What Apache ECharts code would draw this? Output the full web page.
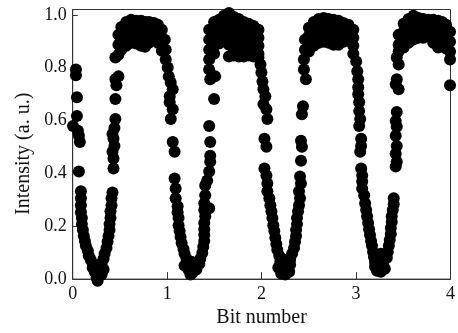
<!DOCTYPE html>
<html>
<head>
<meta charset="utf-8">
<script src="https://cdn.jsdelivr.net/npm/echarts@6/dist/echarts.min.js"></script>
<style>html,body{margin:0;padding:0;background:#fff;}#c{width:458px;height:333px;}</style>
</head>
<body>
<div id="c"></div>
<script>
// ---- data (x = bit number, y = intensity a.u.) ----
const bit0Fall = [[0.034,0.793],[0.034,0.771],[0.045,0.688],[0.045,0.617],[0.003,0.579],[0.055,0.561],[0.066,0.542],[0.076,0.519],[0.066,0.407],[0.087,0.332],[0.087,0.306],[0.087,0.279],[0.087,0.253],[0.097,0.231],[0.097,0.208],[0.108,0.186],[0.118,0.163],[0.129,0.144],[0.139,0.126],[0.160,0.107],[0.170,0.088],[0.191,0.073],[0.212,0.058]];
const bit0Bottom = [[0.212,0.043],[0.254,0.051],[0.296,0.047],[0.233,0.028],[0.275,0.024],[0.327,0.036],[0.254,0.006],[0.264,-0.006],[0.306,0.017]];
const bit0Rise = [[0.306,0.058],[0.327,0.077],[0.338,0.096],[0.358,0.118],[0.369,0.141],[0.379,0.163],[0.390,0.186],[0.390,0.208],[0.400,0.231],[0.400,0.257],[0.411,0.279],[0.411,0.306],[0.421,0.328],[0.432,0.418],[0.432,0.456],[0.421,0.482],[0.442,0.504],[0.432,0.531],[0.421,0.549],[0.442,0.572],[0.452,0.606],[0.452,0.681],[0.452,0.756],[0.484,0.767],[0.463,0.733],[0.452,0.838]];
const plateau1 = [[0.484,0.924],[0.484,0.887],[0.484,0.849],[0.515,0.954],[0.515,0.924],[0.515,0.894],[0.515,0.868],[0.567,0.973],[0.567,0.943],[0.567,0.913],[0.567,0.883],[0.620,0.981],[0.620,0.951],[0.620,0.921],[0.620,0.894],[0.672,0.977],[0.672,0.947],[0.672,0.917],[0.672,0.891],[0.724,0.977],[0.724,0.947],[0.724,0.917],[0.724,0.883],[0.766,0.973],[0.766,0.943],[0.766,0.913],[0.766,0.879],[0.808,0.973],[0.808,0.943],[0.808,0.913],[0.808,0.894],[0.860,0.969],[0.860,0.939],[0.860,0.909],[0.902,0.962],[0.902,0.936],[0.902,0.906],[0.902,0.894],[0.944,0.943],[0.944,0.913],[0.944,0.891],[0.944,0.864]];
const bit1Fall = [[0.975,0.906],[0.985,0.868],[0.985,0.831],[1.006,0.801],[1.017,0.767],[1.038,0.744],[1.059,0.718],[1.027,0.692],[1.027,0.669],[1.059,0.643],[1.038,0.606],[1.059,0.519],[1.079,0.482],[1.079,0.381],[1.090,0.343],[1.090,0.306],[1.111,0.276],[1.111,0.253],[1.121,0.231],[1.121,0.204],[1.132,0.182],[1.142,0.159],[1.153,0.137],[1.173,0.114],[1.184,0.096],[1.205,0.077],[1.225,0.058]];
const bit1Bottom = [[1.184,0.051],[1.225,0.036],[1.268,0.024],[1.309,0.036],[1.247,0.017],[1.257,0.066],[1.299,0.054],[1.341,0.058]];
const bit1Rise = [[1.351,0.077],[1.372,0.099],[1.382,0.122],[1.393,0.144],[1.393,0.167],[1.393,0.189],[1.393,0.212],[1.403,0.238],[1.393,0.261],[1.445,0.268],[1.393,0.287],[1.403,0.317],[1.403,0.354],[1.424,0.373],[1.445,0.407],[1.456,0.444],[1.456,0.467],[1.456,0.519],[1.445,0.579],[1.497,0.681],[1.456,0.756],[1.508,0.767]];
const plateau2 = [[1.445,0.943],[1.445,0.906],[1.445,0.868],[1.445,0.831],[1.445,0.793],[1.497,0.973],[1.497,0.943],[1.497,0.913],[1.497,0.883],[1.497,0.853],[1.550,0.981],[1.550,0.951],[1.550,0.921],[1.550,0.891],[1.602,0.996],[1.602,0.966],[1.602,0.936],[1.602,0.906],[1.654,1.007],[1.654,0.977],[1.654,0.947],[1.654,0.917],[1.654,0.887],[1.654,0.842],[1.706,0.992],[1.706,0.962],[1.706,0.932],[1.706,0.902],[1.706,0.872],[1.706,0.846],[1.759,0.984],[1.759,0.954],[1.759,0.924],[1.759,0.894],[1.759,0.864],[1.759,0.842],[1.811,0.973],[1.811,0.943],[1.811,0.913],[1.811,0.883],[1.811,0.853],[1.811,0.842],[1.863,0.966],[1.863,0.936],[1.863,0.906],[1.863,0.876],[1.863,0.846],[1.915,0.958],[1.915,0.928],[1.915,0.898],[1.915,0.868],[1.915,0.842],[1.967,0.943],[1.967,0.913],[1.967,0.883],[1.967,0.853],[1.967,0.838]];
const bit2Fall = [[1.988,0.812],[1.998,0.782],[2.009,0.748],[2.019,0.718],[2.040,0.692],[2.019,0.662],[2.051,0.643],[2.061,0.606],[2.030,0.531],[2.051,0.501],[2.030,0.418],[2.051,0.392],[2.061,0.362],[2.061,0.332],[2.082,0.306],[2.093,0.279],[2.104,0.257],[2.114,0.231],[2.124,0.204],[2.135,0.182],[2.145,0.156],[2.156,0.133],[2.166,0.111],[2.187,0.088],[2.198,0.066]];
const bit2Bottom = [[2.177,0.043],[2.218,0.051],[2.260,0.051],[2.302,0.054],[2.208,0.021],[2.250,0.017],[2.292,0.028],[2.239,0.073]];
const bit2Rise = [[2.302,0.073],[2.323,0.096],[2.344,0.118],[2.354,0.141],[2.365,0.163],[2.365,0.186],[2.375,0.208],[2.375,0.231],[2.386,0.257],[2.396,0.279],[2.407,0.306],[2.396,0.332],[2.417,0.362],[2.407,0.388],[2.417,0.448],[2.427,0.501],[2.417,0.523],[2.427,0.624],[2.438,0.654],[2.469,0.756],[2.448,0.793],[2.448,0.831]];
const plateau3 = [[2.459,0.906],[2.459,0.868],[2.501,0.951],[2.501,0.921],[2.501,0.891],[2.501,0.861],[2.553,0.973],[2.553,0.943],[2.553,0.913],[2.553,0.883],[2.605,0.984],[2.605,0.954],[2.605,0.924],[2.605,0.894],[2.657,0.988],[2.657,0.958],[2.657,0.928],[2.657,0.898],[2.710,0.984],[2.710,0.954],[2.710,0.924],[2.710,0.894],[2.762,0.981],[2.762,0.951],[2.762,0.921],[2.762,0.887],[2.814,0.977],[2.814,0.947],[2.814,0.917],[2.814,0.887],[2.866,0.969],[2.866,0.939],[2.866,0.909],[2.866,0.898],[2.919,0.962],[2.919,0.932],[2.919,0.902],[2.971,0.943],[2.971,0.913],[2.971,0.883],[2.971,0.853]];
const bit3Fall = [[3.002,0.823],[3.013,0.786],[3.023,0.756],[3.023,0.726],[3.023,0.699],[3.033,0.669],[3.033,0.636],[3.044,0.606],[3.033,0.579],[3.054,0.531],[3.054,0.504],[3.044,0.482],[3.054,0.418],[3.065,0.392],[3.065,0.369],[3.065,0.343],[3.086,0.317],[3.096,0.287],[3.107,0.261],[3.117,0.238],[3.128,0.212],[3.138,0.189],[3.148,0.167],[3.159,0.144],[3.169,0.126],[3.180,0.103],[3.190,0.084],[3.201,0.066]];
const bit3Bottom = [[3.201,0.047],[3.243,0.054],[3.284,0.058],[3.222,0.032],[3.263,0.028],[3.305,0.039],[3.263,0.096]];
const bit3Rise = [[3.326,0.081],[3.336,0.103],[3.347,0.126],[3.357,0.148],[3.368,0.171],[3.368,0.193],[3.378,0.216],[3.378,0.238],[3.389,0.261],[3.399,0.283],[3.399,0.306],[3.420,0.426],[3.431,0.444],[3.420,0.474],[3.431,0.504],[3.420,0.542],[3.431,0.576],[3.420,0.598],[3.431,0.632],[3.431,0.756],[3.451,0.718],[3.420,0.737],[3.431,0.838],[3.451,0.812]];
const plateau4 = [[3.451,0.924],[3.451,0.887],[3.451,0.861],[3.504,0.966],[3.504,0.936],[3.504,0.906],[3.504,0.876],[3.556,0.984],[3.556,0.954],[3.556,0.924],[3.556,0.894],[3.608,0.996],[3.608,0.966],[3.608,0.936],[3.608,0.906],[3.660,0.988],[3.660,0.958],[3.660,0.928],[3.660,0.913],[3.712,0.984],[3.712,0.954],[3.712,0.924],[3.712,0.913],[3.765,0.981],[3.765,0.951],[3.765,0.921],[3.817,0.981],[3.817,0.951],[3.817,0.921],[3.817,0.894],[3.869,0.977],[3.869,0.947],[3.869,0.917],[3.869,0.876],[3.911,0.973],[3.911,0.943],[3.911,0.913],[3.911,0.883],[3.953,0.962],[3.953,0.932],[3.953,0.902],[3.953,0.872],[3.995,0.936],[3.995,0.898],[3.995,0.861],[3.995,0.831],[3.995,0.733]];

const xTicks = [0, 1, 2, 3, 4];
const yTicks = [0.0, 0.2, 0.4, 0.6, 0.8, 1.0];
const xTitle = 'Bit number';
const yTitle = 'Intensity (a. u.)';

const allPoints = [].concat(bit0Fall, bit0Bottom, bit0Rise, plateau1, bit1Fall, bit1Bottom, bit1Rise, plateau2, bit2Fall, bit2Bottom, bit2Rise, plateau3, bit3Fall, bit3Bottom, bit3Rise, plateau4);

const FONT = '"Liberation Serif", "Times New Roman", serif';
const chart = echarts.init(document.getElementById('c'), null, {renderer: 'canvas'});
chart.setOption({
  animation: false,
  backgroundColor: '#fff',
  grid: {left: 72.7, right: 2.5, top: 9.5, bottom: 51.5, show: true, borderColor: '#333', borderWidth: 1, backgroundColor: 'transparent'},
  xAxis: {
    type: 'value', min: xTicks[0], max: xTicks[xTicks.length - 1], interval: 1,
    name: xTitle, nameLocation: 'middle', nameGap: 24,
    nameTextStyle: {fontFamily: FONT, fontSize: 20, color: '#111'},
    axisLine: {show: true, lineStyle: {color: '#333', width: 1}},
    axisTick: {show: true, inside: true, length: 7, lineStyle: {color: '#333'}},
    axisLabel: {fontFamily: FONT, fontSize: 18, color: '#111', margin: 6,
      formatter: v => xTicks.includes(v) ? String(v) : ''},
    splitLine: {show: false}
  },
  yAxis: {
    type: 'value', min: 0, max: 1.02, interval: 0.2,
    name: yTitle, nameLocation: 'middle', nameGap: 37, nameRotate: 90,
    nameTextStyle: {fontFamily: FONT, fontSize: 20, color: '#111', padding: [0, 19, 0, 0]},
    axisLine: {show: true, lineStyle: {color: '#333', width: 1}},
    axisTick: {show: true, inside: true, length: 5, lineStyle: {color: '#333'}},
    axisLabel: {fontFamily: FONT, fontSize: 18, color: '#111', margin: 6, showMaxLabel: false,
      formatter: v => { const t = yTicks.find(k => Math.abs(k - v) < 1e-6); return t === undefined ? '' : t.toFixed(1); }},
    splitLine: {show: false}
  },
  series: [{
    type: 'scatter', data: allPoints, symbol: 'circle', symbolSize: 12,
    itemStyle: {color: '#000', opacity: 1, borderWidth: 0}, clip: false, silent: true
  }]
});
</script>
</body>
</html>
